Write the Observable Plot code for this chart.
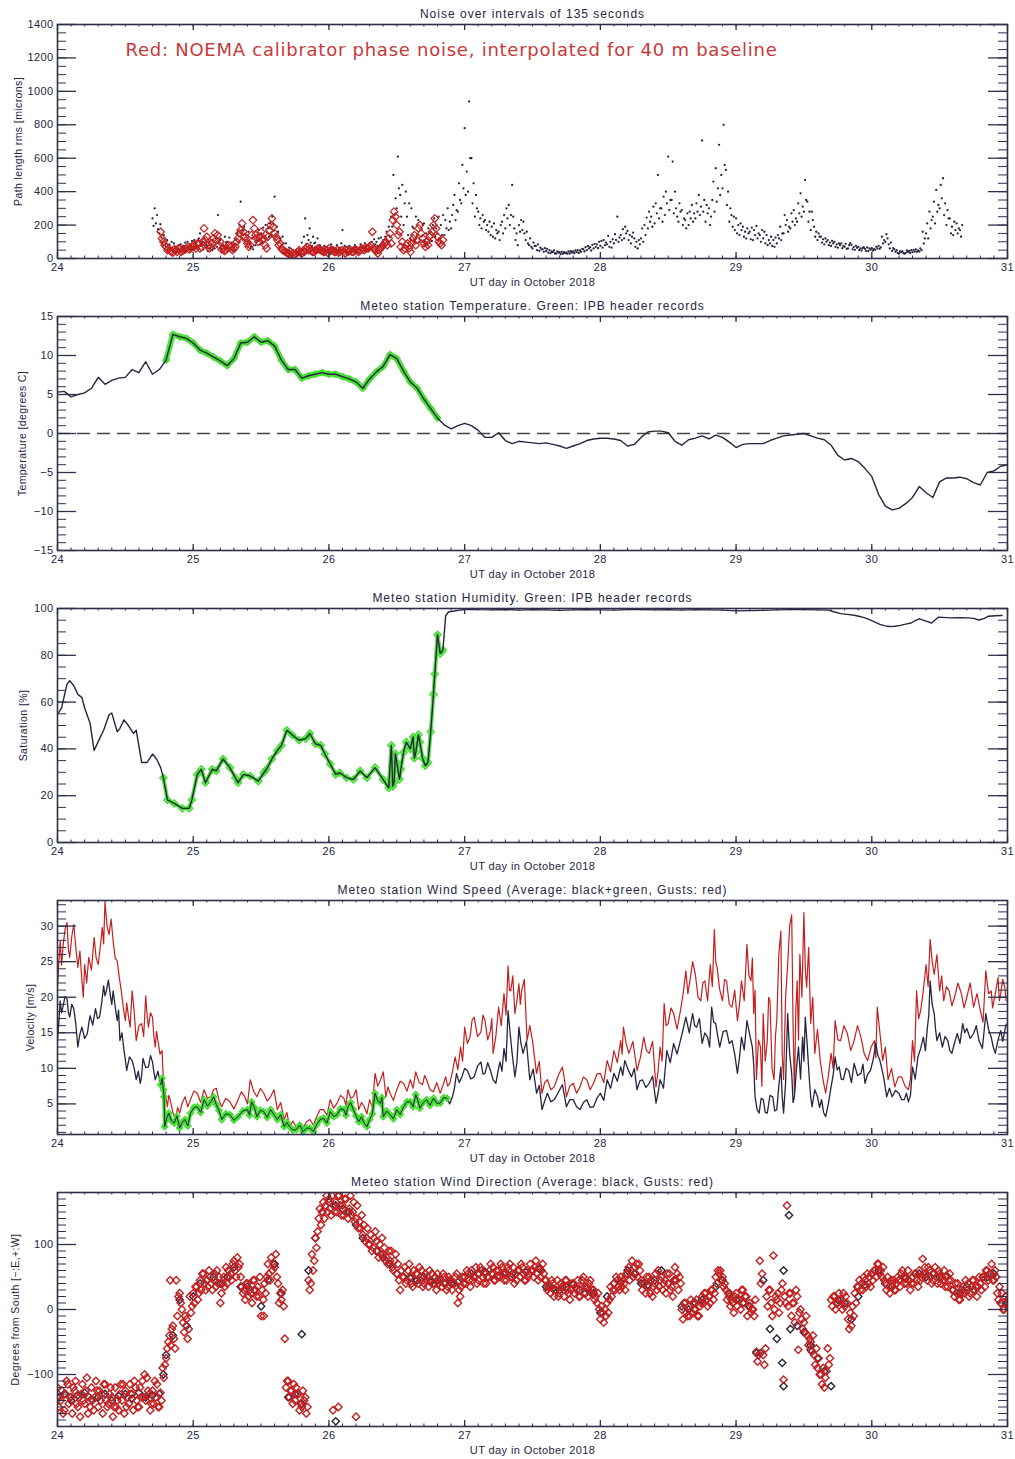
<!DOCTYPE html>
<html><head><meta charset="utf-8">
<script src="https://cdn.jsdelivr.net/npm/d3@7"></script>
<script src="https://cdn.jsdelivr.net/npm/@observablehq/plot@0.6"></script>
<style>
body{margin:0;background:#fff;}
#chart{position:relative;width:1015px;height:1459px;background:#fff;}
#chart svg{display:block;}
</style></head><body><div id="chart"></div>
<script>
// ---------- shared axis data ----------
const xDays = [24, 25, 26, 27, 28, 29, 30, 31];
const xTitle = "UT day in October 2018";
const titles = [
  "Noise over intervals of 135 seconds",
  "Meteo station Temperature. Green: IPB header records",
  "Meteo station Humidity. Green: IPB header records",
  "Meteo station Wind Speed (Average: black+green, Gusts: red)",
  "Meteo station Wind Direction (Average: black, Gusts: red)"
];
const yLabels = ["Path length rms [microns]", "Temperature [degrees C]", "Saturation [%]", "Velocity [m/s]", "Degrees from South [\u2212:E,+:W]"];
const noteText = "Red: NOEMA calibrator phase noise, interpolated for 40 m baseline";
const noiseTicks = [0, 200, 400, 600, 800, 1000, 1200, 1400];
const tempTicks = [-15, -10, -5, 0, 5, 10, 15];
const humTicks = [0, 20, 40, 60, 80, 100];
const windTicks = [5, 10, 15, 20, 25, 30];
const dirTicks = [-100, 0, 100];

// ---------- panel 1: path length noise ----------
// black dots: three readings per 0.025 day starting 24.700
const noiseT0 = 24.7, noiseDt = 0.025;
const noiseBlack = [
[240,195,300],[210,260,175],[150,205,125],[95,140,80],
[70,110,60],[85,50,100],[55,90,40],[70,40,60],
[50,85,45],[75,55,95],[60,100,70],[85,55,105],
[70,110,60],[95,65,120],[150,75,100],[55,95,70],
[80,45,100],[60,110,50],[95,60,120],[70,260,95],
[110,60,85],[75,130,95],[100,60,125],[60,95,45],
[85,50,110],[150,95,200],[340,120,170],[190,110,140],
[100,160,85],[70,120,55],[130,80,100],[105,170,85],
[150,95,185],[120,200,160],[180,130,210],[140,250,165],
[370,135,190],[160,95,120],[75,130,90],[55,90,45],
[40,65,35],[30,50,45],[45,25,35],[30,55,25],
[95,55,130],[240,85,140],[110,180,95],[75,130,90],
[95,60,120],[55,80,45],[65,50,75],[45,70,55],
[60,50,85],[70,45,60],[55,80,50],[65,45,90],
[170,60,75],[50,70,60],[75,55,45],[55,65,80],
[70,50,60],[55,85,65],[75,60,90],[65,80,55],
[90,60,100],[70,115,85],[100,75,120],[80,125,95],
[110,75,130],[160,100,190],[130,250,190],[500,260,360],
[300,610,420],[380,250,440],[200,330,400],[250,140,330],
[120,300,190],[180,110,250],[140,230,100],[110,170,200],
[210,100,150],[120,180,110],[160,105,200],[240,130,180],
[150,250,120],[200,140,260],[140,230,180],[300,170,220],
[180,260,320],[380,230,290],[280,450,350],[330,560,420],
[780,380,520],[400,940,600],[600,330,450],[250,380,300],
[280,200,240],[180,260,220],[230,170,200],[160,220,140],
[190,130,210],[120,170,150],[160,110,200],[220,150,260],
[180,300,240],[320,200,260],[440,250,180],[110,150,80],
[200,160,230],[170,220,150],[110,160,90],[80,120,70],
[60,95,75],[75,50,85],[45,65,55],[55,40,62],
[45,58,35],[50,32,42],[38,48,30],[30,42,36],
[36,26,40],[28,38,32],[35,28,42],[30,44,36],
[42,32,48],[38,50,33],[48,40,58],[55,42,68],
[50,75,60],[68,48,82],[60,88,70],[85,62,100],
[75,105,65],[110,80,95],[85,135,70],[100,65,115],
[90,145,110],[250,100,125],[140,110,175],[120,190,150],
[165,110,140],[90,130,155],[120,70,100],[60,110,85],
[120,180,100],[200,140,245],[180,280,220],[250,190,310],
[210,330,270],[500,240,300],[300,220,370],[260,400,330],
[610,290,350],[350,580,270],[400,300,250],[220,330,280],
[290,200,240],[230,180,270],[200,280,240],[320,220,270],
[240,330,280],[380,260,310],[706,280,350],[220,320,270],
[300,200,250],[350,460,280],[540,340,420],[680,380,500],
[420,800,560],[530,320,400],[220,300,260],[190,250,170],
[240,150,200],[140,210,170],[190,130,160],[120,180,150],
[160,115,185],[110,170,140],[195,120,150],[140,100,170],
[120,160,90],[140,80,110],[90,130,75],[110,70,125],
[90,140,120],[190,110,150],[150,260,200],[230,160,190],
[180,270,220],[290,200,240],[220,330,270],[390,250,310],
[280,470,350],[340,220,280],[170,280,230],[190,130,160],
[110,150,130],[130,95,115],[85,120,100],[110,80,95],
[75,105,90],[100,70,85],[65,90,80],[90,62,75],
[70,88,58],[60,80,92],[82,55,68],[52,76,64],
[70,50,60],[48,62,68],[58,45,66],[44,60,52],
[62,48,56],[52,70,60],[75,58,66],[130,90,110],
[100,145,120],[85,60,95],[45,62,55],[40,50,33],
[30,42,38],[44,32,28],[34,48,38],[45,33,50],
[38,52,42],[55,40,48],[42,60,50],[160,90,120],
[150,210,120],[280,180,230],[250,340,210],[410,280,320],
[300,440,360],[480,260,330],[200,290,240],[240,150,190],
[140,220,170],[210,150,180],[170,130,200]
];
// red diamonds: NOEMA calibrator noise, every 0.02 day from 24.76 and from 24.77
const redAT0 = 24.76, redBT0 = 24.77, redDt = 0.02;
const noiseRedA = [160,100,70,60,40,55,40,60,45,55,70,60,80,60,90,70,180,130,60,90,150,140,100,60,50,80,70,60,100,150,210,130,90,80,230,140,100,160,120,60,170,240,150,110,90,50,40,30,40,20,30,50,30,40,70,60,40,50,60,50,40,50,60,50,40,50,40,50,30,40,50,40,50,40,60,50,60,70,160,50,30,60,80,100,120,90,280,200,160,100,60,90,40,120,80,180,150,90,100,130,160,240,130,90,110];
const noiseRedB = [120,80,50,45,35,50,60,40,50,60,55,65,75,90,60,100,110,80,70,120,110,80,55,45,60,75,50,70,120,170,160,110,70,140,180,120,130,110,80,130,200,190,130,80,60,45,35,25,30,25,40,35,45,55,50,45,40,50,55,45,40,35,45,50,40,35,45,40,50,45,40,55,45,50,55,65,60,80,60,45,50,70,90,80,150,230,250,140,70,50,80,60,90,140,110,200,120,70,80,140,200,180,100,80];

// ---------- panel 2: temperature, every 0.05 day from 24.00 ----------
const tempT0 = 24, tempDt = 0.05;
const temperature = [
5.3,5.4,4.7,5.0,5.2,5.8,7.2,6.3,6.8,7.1,
7.2,8.2,7.8,9.2,7.6,8.2,9.4,12.7,12.4,12.2,
11.6,10.7,10.3,9.8,9.3,8.7,9.6,11.6,11.7,12.4,
11.7,11.9,11.2,9.4,8.2,8.2,7.1,7.4,7.6,7.8,
7.6,7.6,7.3,7.0,6.6,5.8,7.0,7.9,8.6,10.1,
9.6,8.0,6.6,5.8,4.4,3.2,2.0,1.1,0.6,1.0,
1.3,1.0,0.4,-0.5,-0.5,0.1,-0.9,-1.3,-1.0,-1.1,
-1.2,-1.3,-1.2,-1.4,-1.6,-1.9,-1.6,-1.3,-0.9,-0.7,
-0.6,-0.6,-0.7,-0.9,-1.6,-1.4,-0.5,0.2,0.3,0.3,
0.1,-1.0,-1.5,-0.8,-0.6,-0.3,-0.7,-0.2,-0.5,-1.1,
-1.8,-1.4,-1.3,-1.3,-1.3,-0.9,-0.6,-0.3,-0.2,-0.1,
0.0,-0.3,-0.6,-0.8,-1.5,-2.8,-3.4,-3.2,-3.6,-4.5,
-5.5,-7.8,-9.3,-9.8,-9.6,-9.0,-8.2,-6.8,-7.6,-8.2,
-6.2,-5.7,-5.7,-5.6,-5.8,-6.3,-6.6,-5.0,-4.8,-4.2,
-4.0];
const tempGreenRange = [24.76, 26.83];

// ---------- panel 3: humidity readings [day, %] ----------
const humidity = [
[24.00,54.6],[24.03,57.5],[24.07,67.7],[24.09,69.1],[24.12,67],[24.15,63.3],[24.18,61.9],[24.20,57.5],[24.24,51],[24.27,39.3],
[24.31,44.4],[24.34,48],[24.38,54.6],[24.40,55.3],[24.44,47.3],[24.46,48.8],[24.49,52.4],[24.52,50.2],[24.56,46.6],[24.58,48],
[24.62,34.2],[24.66,34.2],[24.70,37.8],[24.73,35.7],[24.76,32],[24.78,27.7],[24.81,18.2],[24.86,16.7],[24.92,14.6],[24.97,14.6],
[24.99,18.2],[25.03,29.1],[25.06,31.3],[25.09,25.5],[25.14,31.3],[25.17,30.6],[25.22,35.7],[25.27,32],[25.31,27.7],[25.33,25.5],
[25.37,29.1],[25.42,28.4],[25.48,26.2],[25.52,29.8],[25.54,31.3],[25.58,35.7],[25.62,39.3],[25.65,41.5],[25.69,48],[25.73,45.9],
[25.78,43.7],[25.83,44.4],[25.86,46.6],[25.90,42.2],[25.94,41.5],[25.97,37.8],[26.01,33.5],[26.05,29.1],[26.08,29.8],[26.13,27.7],
[26.18,26.9],[26.23,30.6],[26.28,27.7],[26.34,32],[26.40,26.9],[26.44,23.3],[26.46,41.5],[26.47,24],[26.48,25.5],[26.49,38],
[26.50,34.2],[26.52,27],[26.53,31.3],[26.55,38.6],[26.57,42.9],[26.60,40],[26.62,45.1],[26.63,36],[26.64,38.6],[26.66,46],
[26.67,42.9],[26.69,36],[26.71,32.8],[26.73,34.2],[26.75,47.3],[26.77,63.3],[26.78,72],[26.80,88.8],[26.82,80.8],[26.84,82.2],
[26.86,96.8],[26.88,98.5],[26.95,99.2],[27.02,99.7],[27.1,99.5],[27.2,99.4],[27.3,99.6],[27.4,99.3],[27.5,99.5],[27.6,99.4],
[27.7,99.2],[27.8,99.4],[27.9,99.5],[28.0,99.4],[28.1,99.3],[28.2,99.5],[28.3,99.6],[28.4,99.4],[28.5,99.5],[28.6,99.3],
[28.7,99.5],[28.8,99.4],[28.9,99.3],[29.0,99.0],[29.1,99.1],[29.2,99.2],[29.3,99.4],[29.4,99.5],[29.5,99.5],[29.6,99.4],
[29.68,99.3],[29.72,98.6],[29.77,97.8],[29.82,97.5],[29.87,97.1],[29.92,96.5],[29.97,95.6],[30.02,94.3],[30.06,93.2],[30.10,92.6],
[30.13,92.3],[30.17,92.4],[30.21,92.8],[30.25,93.3],[30.29,93.8],[30.32,94.8],[30.35,95.6],[30.40,94.6],[30.44,93.8],[30.49,96.3],
[30.58,96.0],[30.65,96.1],[30.71,96.0],[30.75,95.8],[30.79,95.1],[30.83,95.8],[30.86,96.7],[30.91,96.9],[30.96,97.0]];
const humGreenRange = [24.77, 26.85];

// ---------- panel 4: wind speed readings [day, value, following reading] ----------
const windAvg = [
[24.00,13.9,16.5],[24.02,19.5,17.8],[24.04,18.6,20.1],[24.07,19.8,17.9],[24.09,17.2,19.0],[24.12,18.4,16.2],[24.15,13.0,14.8],[24.18,15.8,14.2],[24.22,14.9,16.3],[24.24,17.4,16.1],
[24.28,18.4,17.0],[24.31,17.2,19.1],[24.34,21.6,20.2],[24.36,20.9,22.4],[24.39,20.2,19.0],[24.41,20.9,18.7],[24.44,16.7,18.2],[24.46,13.9,15.0],[24.49,12.5,11.2],[24.51,9.7,11.6],
[24.55,11.1,10.0],[24.58,8.4,9.6],[24.61,7.9,9.0],[24.63,11.4,10.1],[24.67,10.2,11.8],[24.70,10.9,9.5],[24.72,8.4,9.6],[24.76,7.7,8.6],[24.78,7.0,6.0],[24.79,1.8,3.0],
[24.82,3.7,2.6],[24.86,2.3,3.3],[24.90,1.6,2.4],[24.94,2.8,1.9],[24.98,3.7,4.5],[25.03,4.6,3.8],[25.08,5.6,4.7],[25.13,5.3,6.0],[25.17,4.9,4.1],[25.21,2.8,3.6],
[25.27,3.5,2.7],[25.33,3.2,4.0],[25.40,4.2,3.4],[25.43,5.3,4.5],[25.47,3.2,4.1],[25.52,3.9,3.1],[25.57,4.2,3.5],[25.62,2.8,3.5],[25.67,1.8,2.4],[25.71,1.8,1.3],
[25.76,1.4,2.0],[25.81,1.1,1.6],[25.86,1.6,1.1],[25.91,2.1,2.8],[25.96,3.0,2.3],[26.01,3.9,3.2],[26.06,3.5,4.3],[26.11,4.2,3.4],[26.14,4.6,5.2],[26.18,4.2,3.3],
[26.22,2.5,3.2],[26.26,2.3,1.8],[26.30,2.8,3.6],[26.34,6.5,5.4],[26.38,5.1,5.9],[26.40,3.2,4.0],[26.45,3.5,2.9],[26.50,4.2,3.5],[26.55,4.6,5.3],[26.60,5.3,4.6],
[26.64,6.3,5.5],[26.67,4.4,5.2],[26.72,5.6,4.8],[26.77,5.8,5.1],[26.82,5.1,5.9],[26.87,5.8,5.0],[26.91,6.0,7.2],[26.94,9.3,8.0],[26.98,8.8,10.0],[27.02,9.7,8.5],
[27.07,8.8,10.3],[27.12,10.9,9.2],[27.15,9.3,10.8],[27.19,9.7,8.4],[27.23,7.9,9.5],[27.26,10.9,9.6],[27.29,12.8,11.0],[27.32,18.1,15.0],[27.35,12.1,10.5],[27.37,8.8,10.8],
[27.40,15.8,13.5],[27.43,12.1,13.8],[27.48,8.4,9.9],[27.53,6.5,7.6],[27.57,4.2,5.4],[27.61,6.5,5.3],[27.66,5.6,6.6],[27.72,7.7,6.2],[27.75,4.6,5.6],[27.80,5.6,4.6],
[27.85,4.2,5.2],[27.90,5.6,4.5],[27.95,4.6,5.8],[28.00,6.5,5.5],[28.05,8.4,7.2],[28.10,9.3,8.2],[28.15,10.2,9.0],[28.18,11.1,9.8],[28.23,8.8,10.0],[28.27,7.0,8.2],
[28.31,8.4,7.3],[28.36,7.9,8.9],[28.41,5.1,6.5],[28.44,8.4,7.2],[28.49,12.5,10.8],[28.54,13.5,12.0],[28.59,13.9,15.5],[28.63,17.2,15.0],[28.68,17.7,16.0],[28.71,15.8,17.0],
[28.75,13.5,15.0],[28.79,14.4,13.0],[28.82,18.6,16.5],[28.85,16.3,14.5],[28.88,13.0,15.2],[28.93,15.3,13.5],[28.97,13.9,12.0],[29.01,9.3,11.5],[29.04,14.4,12.6],[29.08,16.7,14.8],
[29.12,13.0,10.5],[29.14,6.0,4.2],[29.17,3.7,5.8],[29.20,5.6,3.8],[29.23,3.7,6.2],[29.27,6.0,4.0],[29.30,4.2,7.5],[29.33,10.2,6.0],[29.35,3.7,8.0],[29.38,17.7,12.0],
[29.41,9.3,5.2],[29.43,6.0,10.0],[29.46,13.0,8.5],[29.49,14.4,11.0],[29.51,17.2,13.0],[29.54,8.4,6.0],[29.56,4.6,7.0],[29.60,6.0,4.5],[29.63,5.6,3.8],[29.66,3.2,5.0],
[29.70,7.4,9.0],[29.73,11.6,9.8],[29.76,10.2,8.5],[29.79,8.4,10.0],[29.83,9.7,8.0],[29.87,10.7,9.0],[29.92,9.3,10.6],[29.95,7.9,9.2],[29.99,9.7,11.2],[30.03,13.5,11.8],
[30.06,11.1,9.0],[30.11,6.0,7.2],[30.15,6.0,6.9],[30.20,6.5,5.6],[30.24,5.6,6.5],[30.27,5.3,6.2],[30.30,10.2,8.5],[30.34,11.6,12.8],[30.38,14.4,12.5],[30.41,15.8,17.5],
[30.43,22.3,19.0],[30.46,17.7,15.5],[30.48,13.9,15.0],[30.52,13.0,14.5],[30.56,13.9,12.5],[30.59,12.1,13.6],[30.63,14.9,13.5],[30.67,16.3,15.0],[30.70,15.6,14.2],[30.75,14.9,16.0],
[30.79,13.9,12.8],[30.84,17.7,15.5],[30.88,14.4,13.0],[30.91,12.1,14.0],[30.95,15.3,13.8],[30.98,15.3,16.2]];
const windGust = [
[24.00,21.4,25.0],[24.02,27.9,24.5],[24.04,27.0,29.5],[24.07,30.5,26.8],[24.09,25.6,28.5],[24.12,30.2,27.0],[24.15,24.2,26.5],[24.18,22.3,20.0],[24.20,24.6,22.0],[24.23,25.6,23.8],
[24.27,28.4,25.5],[24.30,24.6,27.0],[24.33,29.8,27.5],[24.35,33.5,30.0],[24.38,28.8,31.0],[24.41,27.9,25.5],[24.44,25.1,22.8],[24.47,20.9,18.5],[24.50,16.7,19.2],[24.52,17.7,15.8],
[24.55,20.9,18.0],[24.58,13.9,16.0],[24.62,16.3,14.5],[24.65,20.2,17.5],[24.67,15.8,17.8],[24.70,17.2,14.5],[24.72,13.0,15.2],[24.74,13.9,12.0],[24.77,12.5,10.5],[24.78,8.4,6.5],
[24.81,4.6,6.2],[24.83,5.6,3.8],[24.87,2.8,4.5],[24.90,3.7,5.2],[24.94,6.0,4.6],[24.98,5.6,6.8],[25.03,6.5,5.2],[25.08,7.0,5.8],[25.13,6.0,7.0],[25.17,7.2,5.5],
[25.21,4.6,5.8],[25.27,5.3,4.3],[25.33,5.6,6.7],[25.38,6.0,5.0],[25.42,8.4,6.8],[25.47,6.0,7.2],[25.52,6.5,5.4],[25.57,6.0,7.0],[25.62,4.2,5.2],[25.67,2.8,3.8],
[25.71,1.8,2.6],[25.76,1.6,2.4],[25.81,1.6,2.5],[25.86,2.8,2.0],[25.91,3.2,4.2],[25.96,4.2,3.4],[26.01,5.6,4.4],[26.06,5.1,6.2],[26.11,5.8,4.8],[26.14,7.0,5.8],
[26.18,6.0,7.0],[26.22,4.2,5.2],[26.26,4.6,3.6],[26.30,5.6,4.5],[26.34,9.3,7.5],[26.38,8.4,9.5],[26.42,6.0,7.4],[26.45,6.5,5.5],[26.50,7.0,8.2],[26.55,7.9,6.8],
[26.60,8.4,7.2],[26.64,9.5,8.0],[26.69,7.7,9.0],[26.72,8.4,7.0],[26.77,6.7,8.0],[26.82,6.5,7.6],[26.86,8.8,7.5],[26.89,7.9,9.5],[26.93,11.6,9.8],[26.97,13.0,11.0],
[27.00,15.8,13.5],[27.04,14.4,16.8],[27.07,17.2,14.5],[27.12,15.1,17.5],[27.15,16.7,14.0],[27.19,15.3,17.0],[27.21,12.1,14.5],[27.25,18.6,16.0],[27.29,20.5,17.5],[27.32,24.4,21.0],
[27.34,20.9,23.0],[27.37,17.7,19.5],[27.40,21.9,19.0],[27.42,20.9,22.5],[27.46,13.9,16.0],[27.50,13.9,11.5],[27.53,9.3,11.0],[27.57,6.5,8.0],[27.61,8.4,7.0],[27.66,7.4,9.0],
[27.72,10.2,8.5],[27.75,6.0,7.5],[27.80,7.9,6.5],[27.85,7.4,8.8],[27.90,8.4,7.0],[27.95,7.9,9.2],[28.00,9.3,8.0],[28.05,11.1,9.5],[28.10,12.5,10.8],[28.15,13.9,12.0],
[28.17,15.8,13.5],[28.21,12.1,13.8],[28.27,9.7,11.5],[28.32,14.4,12.5],[28.36,12.1,13.8],[28.41,7.4,9.5],[28.44,13.0,11.0],[28.47,19.1,16.0],[28.50,16.3,18.5],[28.54,17.7,15.5],
[28.59,18.1,20.5],[28.63,23.7,20.5],[28.66,22.3,25.0],[28.70,23.2,20.0],[28.74,19.5,22.0],[28.77,22.3,19.5],[28.81,24.6,21.5],[28.84,29.5,25.0],[28.86,24.2,21.0],[28.90,19.5,22.5],
[28.93,22.3,19.0],[28.97,18.6,21.0],[29.01,16.7,19.0],[29.04,22.3,19.5],[29.08,27.4,23.0],[29.11,22.3,25.5],[29.13,17.7,21.0],[29.15,8.4,14.0],[29.18,13.0,7.5],[29.20,17.7,11.0],
[29.23,13.9,20.0],[29.25,19.5,10.0],[29.28,8.4,14.5],[29.30,16.7,26.0],[29.33,29.3,12.0],[29.35,8.4,20.0],[29.38,24.6,30.0],[29.41,31.6,16.0],[29.43,6.5,18.0],[29.45,22.3,14.0],
[29.47,26.0,20.0],[29.50,31.9,24.0],[29.52,21.4,27.0],[29.55,16.3,20.0],[29.58,12.1,15.5],[29.62,11.1,8.5],[29.66,6.5,9.0],[29.70,12.1,10.0],[29.73,16.7,14.0],[29.77,13.9,16.0],
[29.82,14.9,12.5],[29.87,13.9,16.0],[29.92,14.4,12.0],[29.97,11.1,13.0],[30.02,13.9,11.5],[30.04,18.6,15.0],[30.08,11.1,13.0],[30.12,8.4,10.0],[30.17,7.4,8.8],[30.22,8.8,7.5],
[30.27,7.0,8.5],[30.30,13.9,11.0],[30.33,20.9,17.0],[30.36,18.1,21.0],[30.40,24.6,21.5],[30.43,28.1,25.0],[30.46,23.2,26.0],[30.50,20.9,23.0],[30.53,19.5,21.5],[30.57,20.9,18.8],
[30.61,20.0,22.0],[30.66,20.5,18.5],[30.70,20.0,22.0],[30.75,18.6,20.5],[30.80,18.1,16.5],[30.84,23.7,20.5],[30.88,20.9,18.5],[30.90,19.5,21.0],[30.93,22.8,19.5],[30.95,20.5,22.5],
[30.98,21.4,19.5]];
const windGreenRange = [24.76, 26.87];

// ---------- panel 5: wind direction ----------
// gusts (red): three readings every 0.025 day from 24.000
const dirGustT0 = 24, dirGustDt = 0.025;
const dirGust = [
[-120,-150,-135],[-140,-125,-160],[-155,-130,-110],[-115,-145,-135],
[-135,-160,-120],[-125,-110,-145],[-150,-135,-165],[-130,-115,-140],
[-145,-125,-105],[-160,-135,-150],[-120,-140,-155],[-135,-110,-125],
[-150,-125,-140],[-130,-160,-115],[-115,-140,-150],[-145,-130,-120],
[-135,-165,-150],[-120,-150,-140],[-155,-130,-115],[-140,-115,-160],
[-125,-150,-135],[-145,-115,-130],[-130,-155,-110],[-120,-140,-150],
[-150,-120,-135],[-110,-135,-100],[-140,-105,-125],[-130,-155,-145],
[-125,-145,-110],[-135,-115,-150],[-150,-128,-140],[-90,-105,-85],
[-75,-60,-50],[-40,-55,-30],[-25,-45,-60],[45,-10,20],
[25,10,0],[-20,-35,-10],[-15,-45,-30],[20,-5,5],
[25,10,35],[35,15,25],[45,30,55],[55,40,30],
[45,35,60],[50,40,30],[45,55,35],[60,40,50],
[10,25,40],[50,35,65],[40,60,50],[55,45,70],
[75,60,50],[80,65,70],[50,35,25],[30,15,40],
[40,20,30],[25,10,45],[45,30,20],[35,20,50],
[-10,30,15],[40,25,50],[70,55,45],[80,60,70],
[65,85,50],[40,10,25],[15,30,5],[-45,-120,-110],
[-110,-135,-125],[-125,-145,-115],[-140,-120,-130],[-130,-155,-145],
[-150,-125,-140],[-135,-160,-150],[45,30,40],[85,60,75],
[110,95,120],[140,155,130],[150,165,140],[160,175,150],
[170,155,145],[175,160,150],[165,150,175],[175,160,145],
[160,145,170],[170,150,140],[155,175,145],[150,165,135],
[140,160,125],[135,125,145],[115,130,105],[110,125,100],
[100,115,90],[95,110,120],[105,90,80],[100,85,110],
[85,95,75],[80,70,90],[75,90,65],[60,75,85],
[55,70,45],[30,60,50],[50,65,40],[45,60,70],
[50,40,35],[60,45,55],[55,40,65],[45,60,35],
[40,55,45],[50,35,60],[45,55,40],[40,50,30],
[55,40,45],[45,35,55],[50,40,30],[35,50,45],
[45,30,40],[40,50,55],[10,30,20],[35,50,40],
[50,40,60],[55,45,35],[60,45,50],[50,65,40],
[45,55,65],[60,50,40],[55,40,50],[50,60,70],
[55,65,45],[45,60,50],[60,50,70],[65,55,45],
[55,45,65],[60,70,50],[50,65,40],[55,45,60],
[60,50,70],[65,55,45],[45,60,50],[55,70,60],
[60,50,65],[75,55,45],[65,50,60],[70,55,45],
[45,30,35],[35,25,45],[40,20,30],[30,45,20],
[25,40,35],[35,20,45],[45,30,25],[15,30,40],
[40,25,35],[30,45,20],[20,35,45],[50,35,25],
[35,20,40],[45,25,30],[30,15,20],[10,25,0],
[-15,5,-5],[-20,0,-10],[10,-5,15],[35,20,30],
[40,30,50],[45,35,30],[50,35,45],[40,30,55],
[55,65,45],[60,75,50],[65,55,70],[50,70,60],
[45,30,40],[40,25,50],[35,50,25],[45,20,35],
[40,55,30],[60,35,45],[50,30,40],[45,25,55],
[40,55,30],[35,20,45],[65,45,55],[30,50,40],
[0,-15,10],[10,-5,-10],[5,-10,15],[-5,10,0],
[0,15,-10],[-10,5,10],[20,10,25],[25,15,5],
[20,10,30],[30,15,25],[50,40,60],[55,60,45],
[50,35,40],[30,15,25],[20,5,15],[10,-5,20],
[25,5,15],[15,0,30],[30,10,20],[20,-10,5],
[10,-5,0],[0,-10,15],[-65,-80,-70],[75,40,55],
[-70,-85,-60],[20,5,30],[30,10,-10],[83,0,20],
[15,25,-5],[10,30,40],[-108,20,10],[160,5,25],
[25,-10,10],[10,-20,30],[20,-62,-5],[0,-15,-30],
[-20,-35,-10],[-40,-55,-45],[-50,-65,-40],[-70,-85,-60],
[-90,-75,-100],[-100,-115,-90],[-120,-105,-95],[-60,-85,-75],
[15,5,20],[20,0,10],[10,25,15],[15,0,25],
[5,20,10],[-15,-30,-5],[-25,5,-10],[25,10,35],
[35,45,30],[40,30,50],[45,35,55],[40,50,35],
[55,45,60],[60,50,70],[70,55,60],[50,65,45],
[40,30,50],[35,25,45],[40,45,30],[30,40,50],
[45,35,55],[60,50,40],[50,40,60],[45,30,40],
[50,40,55],[55,45,35],[60,45,50],[78,55,65],
[55,45,65],[60,50,40],[45,55,65],[50,40,60],
[55,40,50],[45,60,35],[50,35,45],[55,45,30],
[30,20,40],[25,40,15],[15,30,25],[35,25,45],
[30,40,20],[25,35,45],[45,30,35],[20,35,50],
[40,30,50],[50,35,60],[60,45,55],[55,70,45],
[45,60,50],[25,15,35],[10,25,0],[0,20,10],
[15,5,25]];
const dirGustExtraT = [26.03, 26.07, 26.20, 25.52, 24.83];
const dirGustExtraV = [-155, -150, -165, -10, 45];
// average (black): one reading every 0.05 day from 24.00
const dirAvgT0 = 24, dirAvgDt = 0.05;
const dirAvg = [
-135,-130,-140,-132,-128,-138,-135,-130,-140,-133,
-130,-137,-128,-135,-132,-130,-70,-40,15,-25,
20,40,45,50,40,50,65,35,35,30,
5,45,70,25,-135,-130,-145,60,110,150,
165,160,155,150,130,110,100,90,80,70,
55,50,48,45,50,42,45,40,40,42,
50,55,55,58,55,52,57,55,60,58,
60,62,35,32,30,35,38,30,32,25,
-5,20,40,42,60,55,40,38,45,60,
40,45,5,0,10,15,20,35,45,25,
15,10,5,-67,45,-30,-45,-118,-30,-25,
-35,-55,-75,-95,-118,15,10,-15,20,38,
55,60,40,35,45,48,50,55,50,55,
50,52,30,25,35,30,40,50,55,10,
10];
const dirAvgExtraT = [25.80, 26.05, 29.34, 29.35, 29.39, 29.55, 29.18, 24.78];
const dirAvgExtraV = [-38, -172, -82, 60, 145, -62, -67, -100];

// ---------- styling ----------
const INK = "#25253f", FRAME = "#2f2f4a", RED = "#c41f1f", GREEN = "#3fde2c";
const FONT = "'Liberation Sans', Arial, sans-serif";

function panel(o) {
  const W = 1015, H = o.height, mt = 24, fh = 234, ml = 57, mr = 8;
  const mb = H - mt - fh, fw = W - ml - mr;
  const xMinor = d3.range(24, 31.0001, 0.1);
  const marks = [
    ...o.marks,
    Plot.frame({stroke: FRAME, strokeWidth: 1.6}),
    Plot.tickX(xMinor, {x: d => d, insetTop: fh - 2.5, stroke: FRAME}),
    Plot.tickX(xMinor, {x: d => d, insetBottom: fh - 2.5, stroke: FRAME}),
    Plot.tickX(xDays, {x: d => d, insetTop: fh - 6, stroke: FRAME, strokeWidth: 1.3}),
    Plot.tickX(xDays, {x: d => d, insetBottom: fh - 6, stroke: FRAME, strokeWidth: 1.3}),
    Plot.tickY(o.yMinor, {y: d => d, insetRight: fw - 9, stroke: FRAME}),
    Plot.tickY(o.yMinor, {y: d => d, insetLeft: fw - 9, stroke: FRAME}),
    Plot.tickY(o.yMajor, {y: d => d, insetRight: fw - 19, stroke: FRAME, strokeWidth: 1.3}),
    Plot.tickY(o.yMajor, {y: d => d, insetLeft: fw - 19, stroke: FRAME, strokeWidth: 1.3}),
    Plot.axisX(xDays, {tickSize: 0, tickPadding: 5, tickFormat: d => String(d), color: INK, label: null, fontSize: 11}),
    Plot.axisY(o.yMajor, {tickSize: 0, tickPadding: 4, tickFormat: d => String(d).replace("-", "\u2212"), color: INK, label: null, fontSize: 11}),
    Plot.text([o.title], {frameAnchor: "top", lineAnchor: "middle", textAnchor: "middle", dy: -10, fontSize: 12, fill: INK}),
    Plot.text([xTitle], {frameAnchor: "bottom", lineAnchor: "middle", textAnchor: "middle", dy: 24, fontSize: 11, fill: INK}),
    Plot.text([o.yLabel], {frameAnchor: "left", lineAnchor: "middle", textAnchor: "middle", rotate: -90, dx: o.yLabelDx, fontSize: 10.5, fill: INK})
  ];
  const svg = Plot.plot({
    width: W, height: H, marginTop: mt, marginBottom: mb, marginLeft: ml, marginRight: mr,
    x: {domain: [24, 31]},
    y: {domain: o.yDomain},
    style: {fontFamily: FONT, fontSize: "11px", color: INK, background: "white", letterSpacing: "0.4px"},
    marks
  });
  d3.select(svg).selectAll("text").filter(function () { return this.textContent === o.title; }).style("letter-spacing", "1px");
  d3.select(svg).selectAll("text").filter(function () { return this.textContent === o.yLabel; }).style("letter-spacing", "0.4px");
  d3.select(svg).selectAll("text").filter(function () { return this.textContent === noteText; }).style("letter-spacing", "0.75px");
  return svg;
}

// ---------- derived tables ----------
const noiseDots = noiseBlack.flatMap((r, i) => {
  const t = noiseT0 + i * noiseDt;
  return [{t, v: r[0]}, {t: t + 0.008, v: r[1]}, {t: t + 0.016, v: r[2]}];
});
const redDots = noiseRedA.map((v, i) => ({t: redAT0 + i * redDt, v}))
  .concat(noiseRedB.map((v, i) => ({t: redBT0 + i * redDt, v})));

const tempData = temperature.map((v, i) => ({t: tempT0 + i * tempDt, v}));
const tempGreen = tempData.filter(d => d.t >= tempGreenRange[0] && d.t <= tempGreenRange[1]);

const humData = humidity.map(([t, v]) => ({t, v}));
const humGreen = humData.filter(d => d.t >= humGreenRange[0] && d.t <= humGreenRange[1]);

function zig(rows) {
  return rows.flatMap(([t, a, b], i) => {
    const tn = i + 1 < rows.length ? rows[i + 1][0] : t + 0.02;
    return [{t, v: a}, {t: (t + tn) / 2, v: b}];
  });
}
const avgData = zig(windAvg);
const gustData = zig(windGust);
const windGreen = avgData.filter(d => d.t >= windGreenRange[0] && d.t <= windGreenRange[1]);

const gustDirData = dirGust.flatMap((p, i) => {
  const t = dirGustT0 + i * dirGustDt;
  return [{t, v: p[0]}, {t: t + 0.0083, v: p[1]}, {t: t + 0.0167, v: p[2]}];
}).concat(dirGustExtraT.map((t, i) => ({t, v: dirGustExtraV[i]})));
const avgDirData = dirAvg.map((v, i) => ({t: dirAvgT0 + i * dirAvgDt, v}))
  .concat(dirAvgExtraT.map((t, i) => ({t, v: dirAvgExtraV[i]})));

// ---------- panels ----------
const p1 = panel({
  height: 292, title: titles[0], yLabel: yLabels[0], yLabelDx: -39,
  yDomain: [0, 1400], yMajor: noiseTicks, yMinor: d3.range(0, 1401, 50),
  marks: [
    Plot.dot(noiseDots, {x: "t", y: "v", r: 1.15, fill: INK, stroke: null, clip: true}),
    Plot.dot(redDots, {x: "t", y: "v", symbol: "diamond2", r: 3.4, stroke: RED, strokeWidth: 1.2, clip: true}),
    Plot.text([noteText], {frameAnchor: "top-left", lineAnchor: "middle", dx: 68, dy: 26, textAnchor: "start", fontSize: 18, fill: "#c8383a", fontFamily: "'DejaVu Sans', sans-serif"})
  ]
});
const p2 = panel({
  height: 292, title: titles[1], yLabel: yLabels[1], yLabelDx: -35,
  yDomain: [-15, 15], yMajor: tempTicks, yMinor: d3.range(-15, 15.5, 1),
  marks: [
    Plot.ruleY([0], {stroke: "#444", strokeWidth: 1.3, strokeDasharray: "13,7"}),
    Plot.line(tempGreen, {x: "t", y: "v", stroke: GREEN, strokeWidth: 6, strokeOpacity: 0.9}),
    Plot.dot(tempGreen, {x: "t", y: "v", symbol: "diamond2", r: 2.8, stroke: GREEN, strokeWidth: 1.4}),
    Plot.line(tempData, {x: "t", y: "v", stroke: INK, strokeWidth: 1.4})
  ]
});
const p3 = panel({
  height: 292, title: titles[2], yLabel: yLabels[2], yLabelDx: -34,
  yDomain: [0, 100], yMajor: humTicks, yMinor: d3.range(0, 101, 5),
  marks: [
    Plot.line(humGreen, {x: "t", y: "v", stroke: GREEN, strokeWidth: 4, strokeOpacity: 0.85}),
    Plot.dot(humGreen, {x: "t", y: "v", symbol: "diamond2", r: 3.2, stroke: GREEN, strokeWidth: 1.4}),
    Plot.line(humData, {x: "t", y: "v", stroke: INK, strokeWidth: 1.4})
  ]
});
const p4 = panel({
  height: 292, title: titles[3], yLabel: yLabels[3], yLabelDx: -27,
  yDomain: [0.7, 33.6], yMajor: windTicks, yMinor: d3.range(1, 34, 1),
  marks: [
    Plot.line(gustData, {x: "t", y: "v", stroke: RED, strokeWidth: 1.2, clip: true}),
    Plot.line(avgData, {x: "t", y: "v", stroke: INK, strokeWidth: 1.3, clip: true}),
    Plot.line(windGreen, {x: "t", y: "v", stroke: GREEN, strokeWidth: 4, strokeOpacity: 0.85}),
    Plot.dot(windGreen, {x: "t", y: "v", symbol: "diamond2", r: 2.8, stroke: GREEN, strokeWidth: 1.4}),
    Plot.line(windGreen, {x: "t", y: "v", stroke: INK, strokeWidth: 1})
  ]
});
const p5 = panel({
  height: 291, title: titles[4], yLabel: yLabels[4], yLabelDx: -42,
  yDomain: [-180, 180], yMajor: dirTicks, yMinor: d3.range(-180, 181, 10),
  marks: [
    Plot.dot(avgDirData, {x: "t", y: "v", symbol: "diamond2", r: 3.3, stroke: INK, strokeWidth: 1.4, clip: true}),
    Plot.dot(gustDirData, {x: "t", y: "v", symbol: "diamond2", r: 3.3, stroke: RED, strokeWidth: 1.4, clip: true})
  ]
});

const chart = document.getElementById("chart");
[p1, p2, p3, p4, p5].forEach(p => chart.appendChild(p));
</script>
</body></html>
